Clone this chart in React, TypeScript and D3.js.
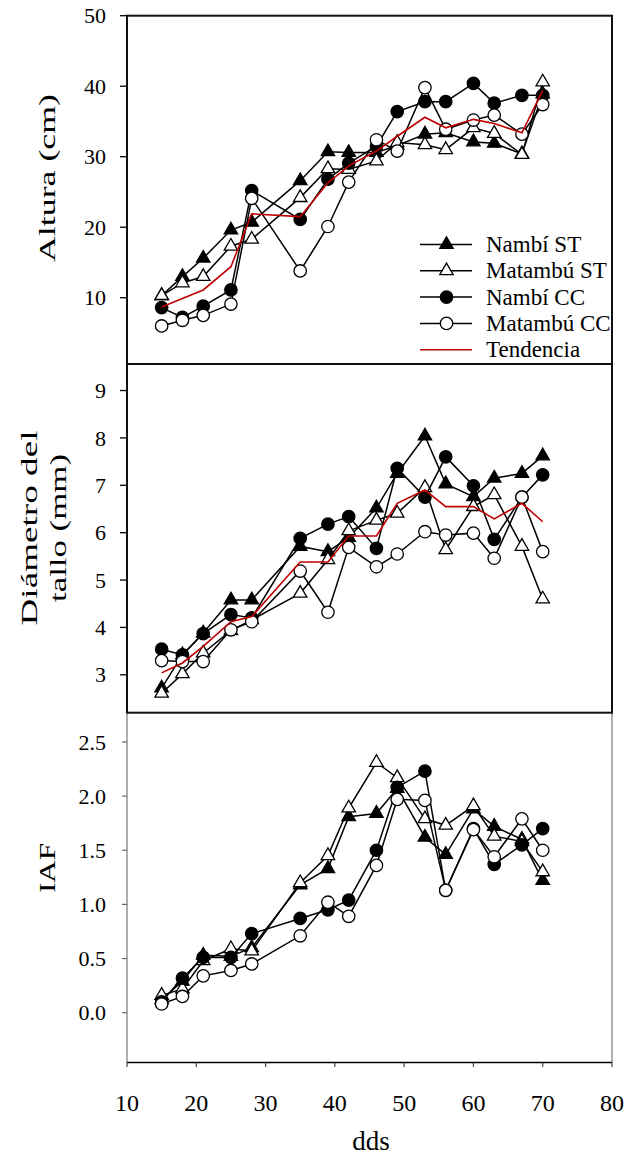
import React from "react";
import * as d3 from "d3";

const dds = [15, 18, 21, 25, 28, 35, 39, 42, 46, 49, 53, 56, 60, 63, 67, 70];

// Altura (cm)
const alturaNambiST = [10.3, 13.0, 15.6, 19.6, 20.7, 26.6, 30.7, 30.6, 30.6, 31.6, 33.2, 33.4, 32.1, 31.9, 30.4, 38.9];
const alturaMatambuST = [10.3, 12.1, 13.0, 17.3, 18.3, 24.2, 28.3, 28.2, 29.4, 32.0, 31.7, 31.0, 34.1, 33.3, 30.3, 40.6];
const alturaNambiCC = [8.6, 7.2, 8.8, 11.1, 25.2, 21.1, 26.8, 29.1, 31.5, 36.4, 37.8, 37.8, 40.4, 37.6, 38.7, 38.7];
const alturaMatambuCC = [6.0, 6.8, 7.5, 9.1, 24.1, 13.8, 20.1, 26.4, 32.4, 30.8, 39.8, 33.9, 35.2, 35.9, 33.2, 37.4];
const alturaTendencia = [8.7, 9.9, 11.1, 14.4, 21.9, 21.5, 26.3, 28.7, 30.8, 32.9, 35.6, 34.1, 35.3, 34.7, 33.4, 39.4];

// Diámetro del tallo (mm)
const diamNambiST = [2.72, 3.42, 3.88, 4.58, 4.58, 5.71, 5.6, 5.9, 6.52, 7.25, 8.04, 7.03, 6.76, 7.15, 7.25, 7.62];
const diamMatambuST = [2.61, 3.02, 3.46, 3.93, 4.16, 4.72, 5.43, 6.04, 6.26, 6.41, 6.95, 5.64, 6.55, 6.8, 5.71, 4.6];
const diamNambiCC = [3.54, 3.42, 3.87, 4.27, 4.2, 5.88, 6.18, 6.34, 5.67, 7.36, 6.75, 7.6, 6.99, 5.86, 6.75, 7.22];
const diamMatambuCC = [3.3, 3.28, 3.28, 3.95, 4.12, 5.19, 4.32, 5.69, 5.28, 5.55, 6.02, 5.95, 5.99, 5.46, 6.75, 5.6];
const diamTendencia = [3.04, 3.25, 3.6, 4.12, 4.23, 5.38, 5.38, 5.93, 5.93, 6.62, 6.9, 6.55, 6.55, 6.29, 6.62, 6.23];

// IAF
const iafNambiST = [0.12, 0.29, 0.53, 0.52, 0.6, 1.18, 1.33, 1.81, 1.84, 2.07, 1.62, 1.46, 1.88, 1.72, 1.6, 1.22];
const iafMatambuST = [0.16, 0.22, 0.48, 0.59, 0.57, 1.2, 1.45, 1.89, 2.31, 2.17, 1.79, 1.73, 1.91, 1.63, 1.58, 1.3];
const iafNambiCC = [0.1, 0.32, 0.51, 0.51, 0.73, 0.87, 0.95, 1.04, 1.5, 2.08, 2.23, 1.13, 1.7, 1.37, 1.55, 1.7];
const iafMatambuCC = [0.08, 0.15, 0.34, 0.39, 0.45, 0.71, 1.02, 0.89, 1.36, 1.97, 1.96, 1.13, 1.69, 1.44, 1.79, 1.5];

const seriesNames = ["Nambí ST", "Matambú ST", "Nambí CC", "Matambú CC", "Tendencia"];
const xTicks = [10, 20, 30, 40, 50, 60, 70, 80];
const alturaTicks = [10, 20, 30, 40, 50];
const diamTicks = [3, 4, 5, 6, 7, 8, 9];
const iafTicks = [0, 0.5, 1.0, 1.5, 2.0, 2.5];

const FONT = "'Liberation Serif', 'Times New Roman', serif";
const W = 628;
const H = 1160;
const X0 = 127;
const X1 = 612;

type Marker = "triUp" | "triOpen" | "circ" | "circOpen" | "none";
const markers: Marker[] = ["triUp", "triOpen", "circ", "circOpen", "none"];

const x = d3.scaleLinear().domain([10, 80]).range([X0, X1]);

function MarkerShape({ type, cx, cy }: { type: Marker; cx: number; cy: number }) {
  if (type === "none") return null;
  const filled = type === "triUp" || type === "circ";
  const fill = filled ? "#000" : "#fff";
  if (type === "triUp" || type === "triOpen") {
    const p = d3.symbol().type(d3.symbolTriangle).size(78)();
    return <path d={p || ""} transform={`translate(${cx},${cy})`} fill={fill} stroke="#000" strokeWidth={1.3} />;
  }
  return <circle cx={cx} cy={cy} r={6.2} fill={fill} stroke="#000" strokeWidth={1.3} />;
}

function Series({ values, y, marker, red }: { values: number[]; y: d3.ScaleLinear<number, number>; marker: Marker; red?: boolean }) {
  const line = d3.line<number>().x((_, i) => x(dds[i])).y((v) => y(v));
  return (
    <g>
      <path d={line(values) || ""} fill="none" stroke={red ? "#c00000" : "#000"} strokeWidth={red ? 1.6 : 1.5} />
      {values.map((v, i) => (
        <MarkerShape key={i} type={marker} cx={x(dds[i])} cy={y(v)} />
      ))}
    </g>
  );
}

function YAxis({ y, ticks, fmt, tickLen, color, width }: { y: d3.ScaleLinear<number, number>; ticks: number[]; fmt: (v: number) => string; tickLen: number; color: string; width: number }) {
  return (
    <g>
      {ticks.map((t) => (
        <g key={t}>
          <line x1={X0 - tickLen} x2={X0} y1={y(t)} y2={y(t)} stroke={color} strokeWidth={width} />
          <text x={106} y={y(t)} dy="0.35em" textAnchor="end" fontFamily={FONT} fontSize={22}>
            {fmt(t)}
          </text>
        </g>
      ))}
    </g>
  );
}

export default function App() {
  const yTop = d3.scaleLinear().domain([0.6, 50]).range([364, 15.7]);
  const yMid = d3.scaleLinear().domain([2.2, 9.56]).range([712.7, 364]);
  const yBot = d3.scaleLinear().domain([-0.46, 2.77]).range([1062.5, 712.7]);

  const topSeries = [alturaNambiST, alturaMatambuST, alturaNambiCC, alturaMatambuCC, alturaTendencia];
  const midSeries = [diamNambiST, diamMatambuST, diamNambiCC, diamMatambuCC, diamTendencia];
  const botSeries = [iafNambiST, iafMatambuST, iafNambiCC, iafMatambuCC];

  const legendY0 = 244.5;
  const legendStep = 26.3;

  return (
    <svg width={W} height={H} style={{ position: "absolute", left: 0, top: 0, background: "#fff" }}>
      <rect x={0} y={0} width={W} height={H} fill="#fff" />

      {/* Bottom panel (IAF) frame: thin grey sides, black x axis */}
      <line x1={X0} x2={X0} y1={712.7} y2={1062.5} stroke="#777" strokeWidth={1.2} />
      <line x1={X1} x2={X1} y1={712.7} y2={1062.5} stroke="#777" strokeWidth={1.2} />
      <line x1={X0} x2={X1} y1={1062.5} y2={1062.5} stroke="#000" strokeWidth={1.3} />
      {xTicks.map((t) => (
        <g key={t}>
          <line x1={x(t)} x2={x(t)} y1={1062.5} y2={1067} stroke="#444" strokeWidth={1.2} />
          <text x={x(t)} y={1111} textAnchor="middle" fontFamily={FONT} fontSize={24}>
            {t}
          </text>
        </g>
      ))}
      <text x={371} y={1150} textAnchor="middle" fontFamily={FONT} fontSize={27}>
        dds
      </text>
      <YAxis y={yBot} ticks={iafTicks} fmt={(v) => v.toFixed(1)} tickLen={5} color="#666" width={1.2} />
      {botSeries.map((s, i) => (
        <Series key={i} values={s} y={yBot} marker={markers[i]} />
      ))}

      {/* Middle panel */}
      <YAxis y={yMid} ticks={diamTicks} fmt={(v) => String(v)} tickLen={7} color="#000" width={1.3} />
      {midSeries.map((s, i) => (
        <Series key={i} values={s} y={yMid} marker={markers[i]} red={i === 4} />
      ))}
      <rect x={X0} y={364} width={X1 - X0} height={712.7 - 364} fill="none" stroke="#111" strokeWidth={2} />

      {/* Top panel */}
      <YAxis y={yTop} ticks={alturaTicks} fmt={(v) => String(v)} tickLen={7} color="#000" width={1.3} />
      {topSeries.map((s, i) => (
        <Series key={i} values={s} y={yTop} marker={markers[i]} red={i === 4} />
      ))}
      <rect x={X0} y={15.7} width={X1 - X0} height={364 - 15.7} fill="none" stroke="#111" strokeWidth={2} />

      {/* Legend */}
      {seriesNames.map((n, i) => {
        const ly = legendY0 + i * legendStep;
        return (
          <g key={n}>
            <line x1={420} x2={472} y1={ly} y2={ly} stroke={i === 4 ? "#c00000" : "#000"} strokeWidth={1.5} />
            <MarkerShape type={markers[i]} cx={446.5} cy={ly} />
            <text x={486} y={ly} dy="0.33em" fontFamily={FONT} fontSize={23}>
              {n}
            </text>
          </g>
        );
      })}

      {/* Y axis titles */}
      <text transform="translate(55,178) rotate(-90)" textAnchor="middle" fontFamily={FONT} fontSize={24} textLength={168} lengthAdjust="spacingAndGlyphs">
        Altura (cm)
      </text>
      <text transform="translate(37,528) rotate(-90)" textAnchor="middle" fontFamily={FONT} fontSize={24} textLength={195} lengthAdjust="spacingAndGlyphs">
        Diámetro del
      </text>
      <text transform="translate(66,528) rotate(-90)" textAnchor="middle" fontFamily={FONT} fontSize={24} textLength={148} lengthAdjust="spacingAndGlyphs">
        tallo (mm)
      </text>
      <text transform="translate(55,868) rotate(-90)" textAnchor="middle" fontFamily={FONT} fontSize={24} textLength={50} lengthAdjust="spacingAndGlyphs">
        IAF
      </text>
    </svg>
  );
}
